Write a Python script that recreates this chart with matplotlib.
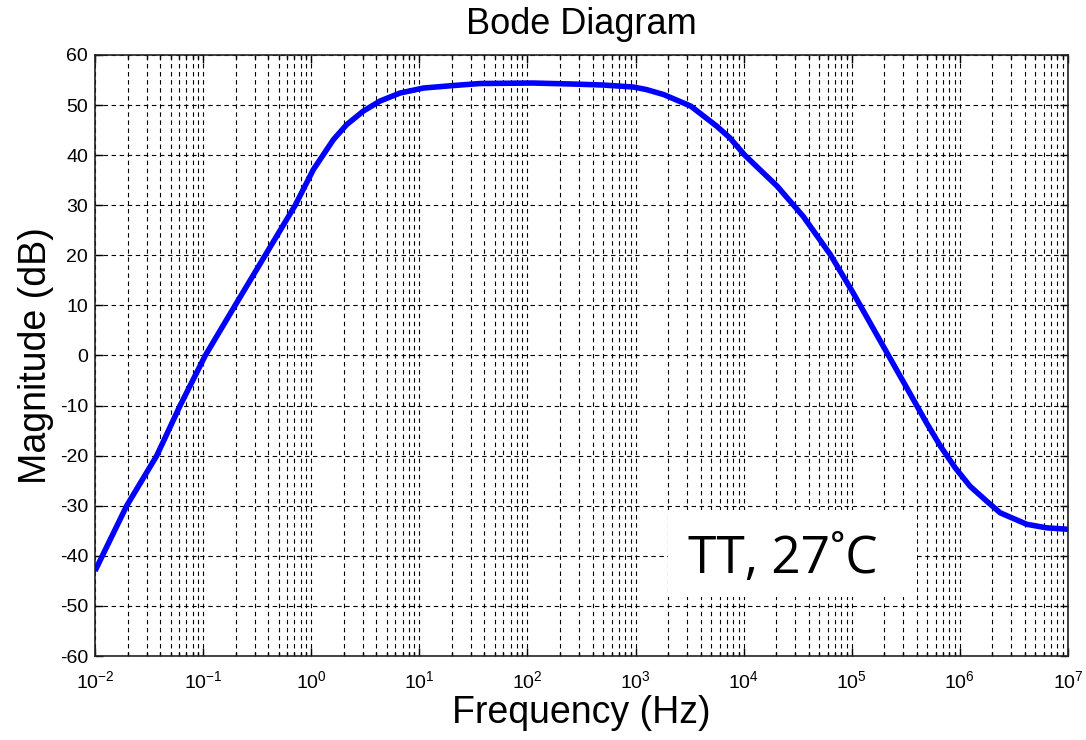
import matplotlib
matplotlib.use("Agg")
import matplotlib.pyplot as plt
import numpy as np
from matplotlib.patches import Rectangle
from matplotlib.ticker import LogLocator, FixedLocator

plt.rcParams['font.family'] = ['Liberation Sans', 'DejaVu Sans']
plt.rcParams['mathtext.default'] = 'regular'
plt.rcParams['axes.unicode_minus'] = False
plt.rcParams['lines.scale_dashes'] = False

# Magnitude response samples: log10(frequency / Hz) and gain in dB
log_freq = [-2.0, -1.707, -1.429, -1.213, -0.98, -0.704, -0.426, -0.148,
            0.019, 0.112, 0.205, 0.328, 0.482, 0.636, 0.821, 1.037,
            1.314, 1.56, 2.05, 2.42, 2.7, 2.98, 3.1, 3.26, 3.51, 3.75,
            3.87, 4.01, 4.31, 4.55, 4.80, 5.01, 5.29, 5.57, 5.69, 5.82,
            5.956, 6.094, 6.249, 6.372, 6.619, 6.80, 7.0]
magnitude_db = [-43.0, -30.0, -20.0, -10.0, 0.0, 10.0, 20.0, 30.0,
                37.1, 40.1, 43.1, 46.1, 48.8, 50.8, 52.4, 53.4,
                53.9, 54.3, 54.4, 54.2, 54.0, 53.6, 53.1, 52.1, 49.8, 45.8,
                43.5, 40.0, 33.8, 27.8, 20.2, 12.6, 1.9, -8.8, -13.4, -18.1,
                -22.4, -26.1, -29.1, -31.4, -33.7, -34.4, -34.7]

y_ticks = list(range(-60, 61, 10))
x_decades = list(range(-2, 8))

title_text = "Bode Diagram"
x_label = "Frequency (Hz)"
y_label = "Magnitude (dB)"
note_text = "TT, 27˚C"

fig = plt.figure(figsize=(10.86, 7.40), dpi=100)
ax = fig.add_axes([0.0875, 0.1135, 0.8959, 0.8122])

freq = np.power(10.0, log_freq)
ax.plot(freq, magnitude_db, color='#0000ff', linewidth=4.0,
        solid_capstyle='butt', solid_joinstyle='round', zorder=3)

ax.set_xscale('log')
ax.set_xlim(10.0 ** x_decades[0], 10.0 ** x_decades[-1])
ax.set_ylim(y_ticks[0], y_ticks[-1])
ax.xaxis.set_major_locator(FixedLocator([10.0 ** d for d in x_decades]))
ax.xaxis.set_minor_locator(LogLocator(base=10, subs=np.arange(2, 10), numticks=20))
ax.set_yticks(y_ticks)
ax.set_xticklabels([r'$10^{%d}$' % d for d in x_decades])

grid_style = dict(color='black', linewidth=0.8, linestyle=(0, (3.2, 2.6)))
ax.grid(True, which='major', axis='both', **grid_style)
ax.grid(True, which='minor', axis='x', **grid_style)
ax.set_axisbelow(True)

ax.tick_params(which='both', direction='in', top=True, right=True,
               labelsize=14, colors='black', width=1.0)
ax.tick_params(which='major', length=6)
ax.tick_params(which='minor', length=3)
ax.tick_params(axis='x', pad=10)
ax.tick_params(axis='y', pad=5)
for s in ax.spines.values():
    s.set_linewidth(1.2)
    s.set_color('#222222')

ax.set_title(title_text, fontsize=26, pad=15)
ax.set_xlabel(x_label, fontsize=27, labelpad=2)
ax.set_ylabel(y_label, fontsize=27, labelpad=4)

# White panel behind the corner annotation
ax.add_patch(Rectangle((0.589, 0.098), 0.256, 0.145, transform=ax.transAxes,
                       facecolor='white', edgecolor='none', zorder=4))
ax.text(0.6095, 0.138, note_text, transform=ax.transAxes,
        fontsize=37, family=['Open Sans', 'DejaVu Sans'],
        ha='left', va='baseline', zorder=5)

fig.savefig('out.png', dpi=100)
